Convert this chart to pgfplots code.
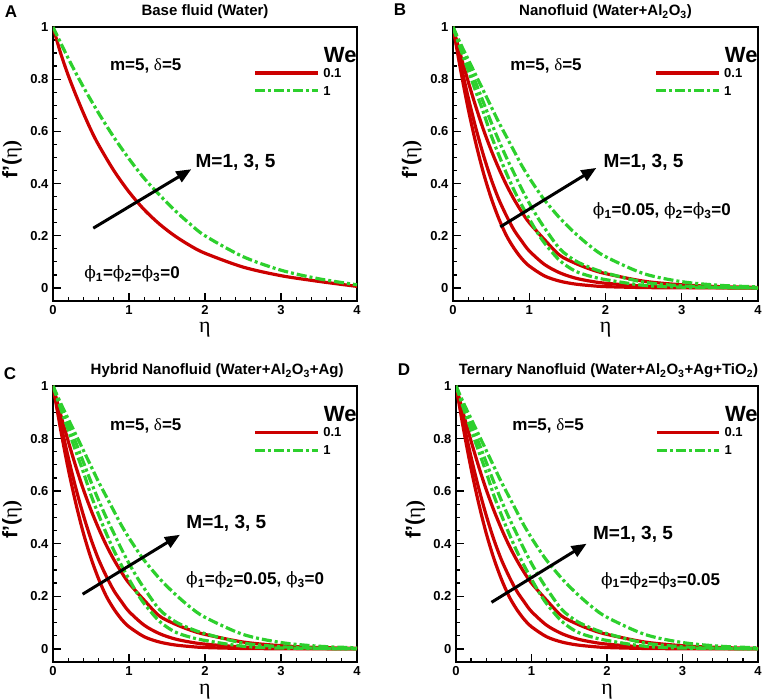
\documentclass[border=0pt]{standalone}
\usepackage{pgfplots}
\pgfplotsset{compat=1.18}
\usepackage{pgfplotstable}
\usetikzlibrary{arrows.meta}
\usepackage{fontspec}
\setmainfont{Liberation Sans}
\newfontfamily\gr{Liberation Serif}
\newfontfamily\grphi{DejaVu Serif}
\definecolor{myred}{RGB}{204,0,0}
\definecolor{mygreen}{RGB}{45,208,45}
\newcommand{\phix}[1]{{\grphi\mdseries ϕ}\textsubscript{#1}}

% Panel A
\pgfplotstableread{
x y
0 1
0.1 0.90
0.2 0.815
0.3 0.74
0.4 0.67
0.5 0.605
0.6 0.548
0.8 0.45
1.0 0.368
1.2 0.30
1.4 0.245
1.6 0.20
1.8 0.163
2.0 0.133
2.5 0.08
3.0 0.047
3.5 0.025
4.0 0.006
}\RA
\pgfplotstableread{
x y
0 1
0.2 0.88
0.4 0.77
0.6 0.67
0.8 0.578
1.0 0.495
1.2 0.42
1.4 0.357
1.6 0.298
1.8 0.246
2.0 0.2
2.5 0.12
3.0 0.068
3.5 0.035
4.0 0.012
}\GA
% Panels B-D (We=0.1, M=1,3,5)
\pgfplotstableread{
x y
0 1
0.1 0.835
0.2 0.685
0.3 0.554
0.4 0.44
0.5 0.345
0.6 0.266
0.7 0.201
0.8 0.152
0.9 0.113
1.0 0.084
1.2 0.046
1.4 0.026
1.6 0.015
1.8 0.009
2.0 0.005
2.5 0.0015
3.0 0.0005
4.0 0
}\RBa
\pgfplotstableread{
x y
0 1
0.1 0.859
0.2 0.729
0.3 0.612
0.4 0.508
0.5 0.417
0.6 0.34
0.7 0.277
0.8 0.222
0.9 0.18
1.0 0.142
1.2 0.09
1.4 0.058
1.6 0.038
1.8 0.026
2.0 0.018
2.5 0.007
3.0 0.0025
3.5 0.001
4.0 0
}\RBb
\pgfplotstableread{
x y
0 1
0.1 0.892
0.2 0.79
0.3 0.694
0.4 0.606
0.5 0.528
0.6 0.458
0.7 0.395
0.8 0.34
0.9 0.292
1.0 0.25
1.2 0.185
1.4 0.125
1.6 0.095
1.8 0.072
2.0 0.055
2.5 0.026
3.0 0.012
3.5 0.005
4.0 0.002
}\RBc
% We=1
\pgfplotstableread{
x y
0 1
0.1 0.915
0.2 0.833
0.3 0.752
0.4 0.672
0.5 0.585
0.6 0.51
0.7 0.44
0.8 0.375
0.9 0.318
1.0 0.265
1.1 0.215
1.2 0.172
1.4 0.105
1.6 0.065
1.8 0.045
2.0 0.032
2.5 0.01
3.0 0.003
4.0 0
}\GBa
\pgfplotstableread{
x y
0 1
0.1 0.925
0.2 0.855
0.3 0.785
0.4 0.71
0.5 0.635
0.6 0.565
0.7 0.5
0.8 0.44
0.9 0.38
1.0 0.325
1.1 0.275
1.2 0.23
1.4 0.15
1.6 0.105
1.8 0.078
2.0 0.058
2.5 0.022
3.0 0.008
3.5 0.002
4.0 0
}\GBb
\pgfplotstableread{
x y
0 1
0.1 0.935
0.2 0.875
0.3 0.815
0.4 0.755
0.5 0.695
0.6 0.635
0.7 0.58
0.8 0.525
0.9 0.47
1.0 0.422
1.1 0.378
1.2 0.337
1.4 0.268
1.6 0.21
1.8 0.16
2.0 0.12
2.5 0.055
3.0 0.024
3.5 0.01
4.0 0.004
}\GBc

\pgfplotsset{
  panel/.style={
    scale only axis, height=274pt,
    xmin=0, xmax=4, ymin=-0.05, ymax=1,
    xtick={0,1,2,3,4}, ytick={0,0.2,0.4,0.6,0.8,1},
    minor x tick num=4, minor y tick num=3,
    tick pos=left, tick align=inside,
    major tick length=8pt, minor tick length=4pt,
    axis line style={line width=1.6pt},
    every tick/.style={black, line width=1.3pt},
    ticklabel style={font=\fontsize{13}{13}\selectfont\bfseries},
    /pgf/number format/assume math mode=true,
    xticklabel style={yshift=-1pt},
    yticklabel style={xshift=-1pt},
    xlabel={\gr η},
    xlabel style={font=\fontsize{22}{22}\selectfont, at={(axis description cs:0.5,-0.116)}, anchor=base, inner sep=0pt},
    ylabel={\bfseries f'(\gr\mdseries η\bfseries)},
    ylabel style={font=\fontsize{21}{21}\selectfont, at={(axis description cs:-0.135,0.515)}, anchor=center},
    title style={font=\fontsize{15}{15}\selectfont\bfseries, at={(axis description cs:0.5,1)}, anchor=base, yshift=5pt},
    clip mode=individual,
  },
}
\tikzset{
  rline/.style={myred, line width=3.2pt},
  gline/.style={mygreen, line width=3.2pt, dash pattern=on 10pt off 3pt on 3pt off 3pt},
  txtA/.style={font=\fontsize{17}{17}\selectfont\bfseries},
  txtM/.style={font=\fontsize{19}{19}\selectfont\bfseries},
  txtL/.style={font=\fontsize{13}{13}\selectfont\bfseries, anchor=west},
  txtW/.style={font=\fontsize{22}{22}\selectfont\bfseries},
  arr/.style={-{Triangle[length=15pt,width=12pt]}, line width=3pt, black},
}
\newcommand{\legendWe}{%
  \node[txtW] at (axis cs:3.78,0.893) {We};
  \draw[rline] (axis cs:2.66,0.824) -- (axis cs:3.49,0.824);
  \node[txtL] at (axis cs:3.51,0.824) {0.1};
  \draw[gline] (axis cs:2.66,0.756) -- (axis cs:3.49,0.756);
  \node[txtL] at (axis cs:3.51,0.756) {1};
  \node[txtA] at (axis cs:1.22,0.85) {m=5, {\gr\mdseries δ}=5};
}

\begin{document}
\begin{tikzpicture}
\useasboundingbox (0pt,0pt) rectangle (782pt,700pt);

% A
\begin{axis}[panel, width=304pt, at={(53pt,399pt)}, anchor=south west, title={Base fluid (Water)}]
\addplot[rline, smooth] table {\RA};
\addplot[gline, smooth] table {\GA};
\legendWe
\node[txtM, anchor=west] at (axis cs:1.83,0.48) {M=1, 3, 5};
\node[txtA] at (axis cs:1.04,0.053) {\phix1=\phix2=\phix3=0};
\draw[arr] (axis cs:0.53,0.229) -- (axis cs:1.82,0.455);
\end{axis}

% B
\begin{axis}[panel, width=305pt, at={(453pt,399pt)}, anchor=south west, title={Nanofluid (Water+Al\textsubscript{2}O\textsubscript{3})}]
\addplot[rline, smooth] table {\RBa};
\addplot[rline, smooth] table {\RBb};
\addplot[rline, smooth] table {\RBc};
\addplot[gline, smooth] table {\GBa};
\addplot[gline, smooth] table {\GBb};
\addplot[gline, smooth] table {\GBc};
\legendWe
\node[txtM, anchor=west] at (axis cs:1.93,0.48) {M=1, 3, 5};
\node[txtA] at (axis cs:2.74,0.295) {\phix1=0.05, \phix2=\phix3=0};
\draw[arr] (axis cs:0.62,0.234) -- (axis cs:1.88,0.46);
\end{axis}

% C
\begin{axis}[panel, width=304pt, height=276pt, at={(53pt,38pt)}, anchor=south west, title={Hybrid Nanofluid (Water+Al\textsubscript{2}O\textsubscript{3}+Ag)}, title style={at={(axis description cs:0.54,1)}}]
\addplot[rline, smooth] table {\RBa};
\addplot[rline, smooth] table {\RBb};
\addplot[rline, smooth] table {\RBc};
\addplot[gline, smooth] table {\GBa};
\addplot[gline, smooth] table {\GBb};
\addplot[gline, smooth] table {\GBc};
\legendWe
\node[txtM, anchor=west] at (axis cs:1.71,0.478) {M=1, 3, 5};
\node[txtA] at (axis cs:2.66,0.263) {\phix1=\phix2=0.05, \phix3=0};
\draw[arr] (axis cs:0.39,0.208) -- (axis cs:1.67,0.434);
\end{axis}

% D
\begin{axis}[panel, width=302pt, height=276pt, at={(456pt,38pt)}, anchor=south west, title={Ternary Nanofluid (Water+Al\textsubscript{2}O\textsubscript{3}+Ag+TiO\textsubscript{2})}, title style={at={(axis description cs:0.505,1)}}]
\addplot[rline, smooth] table {\RBa};
\addplot[rline, smooth] table {\RBb};
\addplot[rline, smooth] table {\RBc};
\addplot[gline, smooth] table {\GBa};
\addplot[gline, smooth] table {\GBb};
\addplot[gline, smooth] table {\GBc};
\legendWe
\node[txtM, anchor=west] at (axis cs:1.77,0.435) {M=1, 3, 5};
\node[txtA] at (axis cs:2.71,0.26) {\phix1=\phix2=\phix3=0.05};
\draw[arr] (axis cs:0.47,0.177) -- (axis cs:1.73,0.40);
\end{axis}

\node[font=\fontsize{17}{17}\selectfont\bfseries] at (11pt,688pt) {A};
\node[font=\fontsize{17}{17}\selectfont\bfseries] at (400pt,690pt) {B};
\node[font=\fontsize{17}{17}\selectfont\bfseries] at (10pt,326pt) {C};
\node[font=\fontsize{17}{17}\selectfont\bfseries] at (404pt,330pt) {D};
\end{tikzpicture}
\end{document}
